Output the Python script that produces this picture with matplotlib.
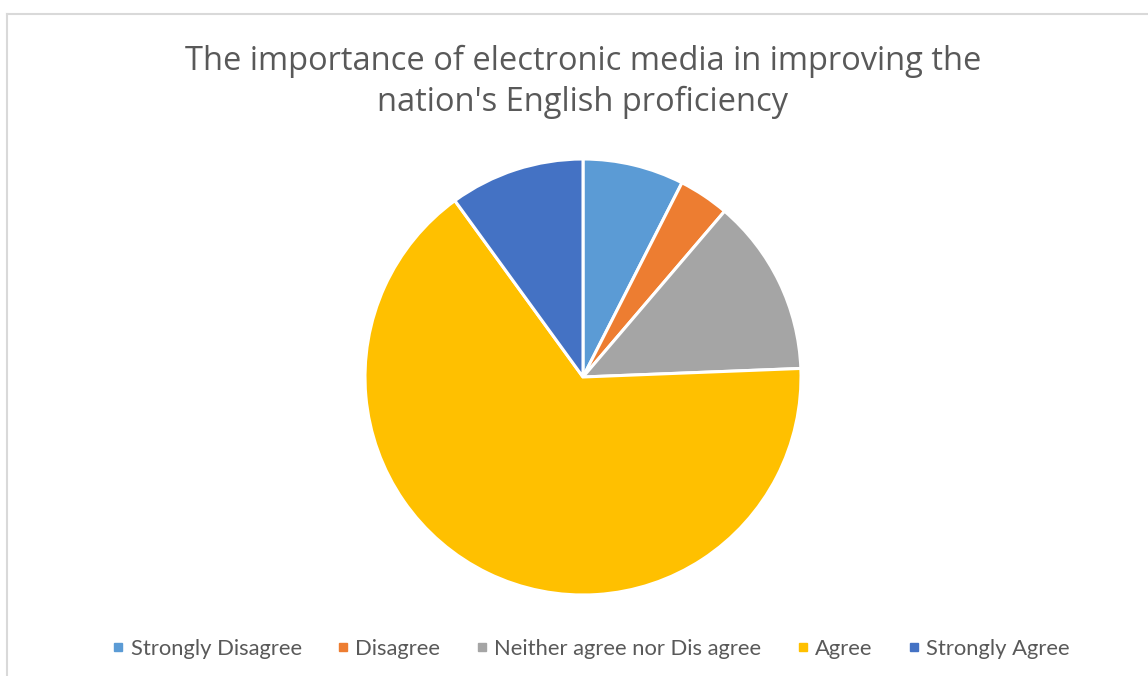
import matplotlib
matplotlib.use("Agg")
import matplotlib.pyplot as plt
from matplotlib.lines import Line2D

categories = ["Strongly Disagree", "Disagree", "Neither agree nor Dis agree",
              "Agree", "Strongly Agree"]
responses = [12, 6, 21, 105, 16]
colors = ["#5B9BD5", "#ED7D31", "#A5A5A5", "#FFC000", "#4472C4"]
title = "The importance of electronic media in improving the\nnation's English proficiency"

W, H = 1148, 676
fig = plt.figure(figsize=(W / 100, H / 100), dpi=100)
fig.patch.set_facecolor("white")

# chart-area frame (top and left edges)
fig.add_artist(Line2D([7 / W, 7 / W], [0, 1 - 14 / H], color="#D9D9D9", lw=1.5,
                      transform=fig.transFigure))
fig.add_artist(Line2D([7 / W, 1], [1 - 14 / H, 1 - 14 / H], color="#D9D9D9", lw=1.5,
                      transform=fig.transFigure))

cx, cy, r = 583, 377, 218
ax = fig.add_axes([(cx - r) / W, (H - cy - r) / H, 2 * r / W, 2 * r / H])
ax.pie(responses, colors=colors, startangle=90, counterclock=False, radius=1,
       wedgeprops=dict(edgecolor="white", linewidth=2.2))
ax.set_xlim(-1.0, 1.0)
ax.set_ylim(-1.0, 1.0)
ax.set_aspect("equal")
ax.axis("off")

fig.text(583 / W, 1 - 82 / H, title, ha="center", va="center", fontsize=23.5,
         color="#595959", family="Open Sans", linespacing=1.33)

handles = [Line2D([], [], marker="s", linestyle="none", markersize=6,
                  markerfacecolor=c, markeredgecolor=c) for c in colors]
fig.legend(handles, categories, loc="center", bbox_to_anchor=(591 / W, 1 - 649 / H),
           ncol=5, frameon=False, handlelength=0.55, handletextpad=0.3,
           columnspacing=1.6, prop=dict(family="Lato", size=15.8),
           labelcolor="#595959")

fig.savefig("out.png", dpi=100, facecolor="white")
